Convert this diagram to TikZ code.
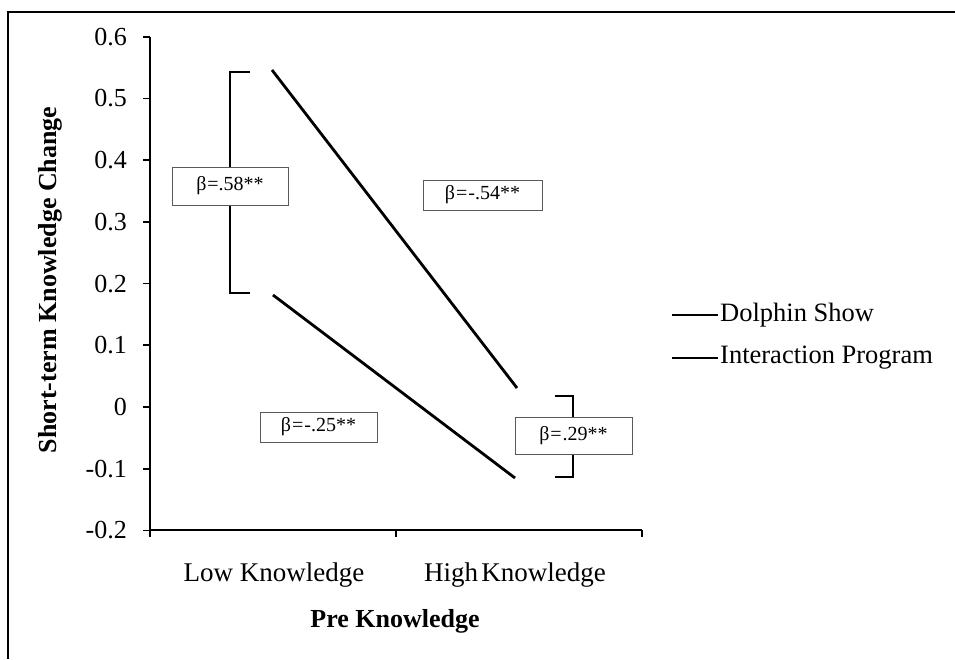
\documentclass[tikz,border=0pt]{standalone}
\usepackage{fontspec}
\setmainfont{Liberation Serif}
\begin{document}
\begin{tikzpicture}[x=1pt,y=1pt,
  ticklab/.style={font=\fontsize{26}{28}\selectfont, anchor=east, inner sep=0pt},
  catlab/.style={font=\fontsize{27}{29}\selectfont, anchor=base, inner sep=0pt},
  axtitle/.style={font=\bfseries\fontsize{26}{28}\selectfont, inner sep=0pt},
  leglab/.style={font=\fontsize{26.5}{28}\selectfont, anchor=west, inner sep=0pt},
  betabox/.style={draw=black!65, line width=0.9pt, fill=white, inner sep=0pt,
    font=\fontsize{20}{22}\selectfont},
  axis/.style={line width=1.6pt},
  dataline/.style={line width=2.8pt},
  bracket/.style={line width=1.4pt},
]
\useasboundingbox (0,0) rectangle (955,659);
% frame (top and left edges)
\coordinate (f1) at (955,647);
\coordinate (f2) at (8,647);
\coordinate (f3) at (8,0);
\draw[line width=2pt] (f1) -- (f2) -- (f3);

% axes
\coordinate (o) at (150,129);
\coordinate (ytop) at (150,622);
\coordinate (xend) at (642,129);
\draw[axis] (ytop) -- (o) -- (xend);
% y ticks and labels
\foreach \v/\t [count=\i] in {0.6/0.6,0.5/0.5,0.4/0.4,0.3/0.3,0.2/0.2,0.1/0.1,0/0,-0.1/-0.1,-0.2/-0.2}{
  \coordinate (yt\i) at (150,{252+617*\v});
  \coordinate (ys\i) at (143,{252+617*\v});
  \draw[axis] (ys\i) -- (yt\i);
  \node[ticklab] (yl\i) at (127,{252+617*\v}) {\t};
}
% x ticks
\foreach \x [count=\i] in {150,396,642}{
  \coordinate (xt\i) at (\x,129);
  \coordinate (xs\i) at (\x,122);
  \draw[axis] (xt\i) -- (xs\i);
}
\node[catlab] (low) at (274,78) {Low Knowledge};
\node[catlab] (high) at (515,78) {High\hspace{0.12em}Knowledge};
\node[axtitle, anchor=base] (xtitle) at (395,32) {Pre Knowledge};
\node[axtitle, rotate=90] (ytitle) at (50,379) {Short-term Knowledge Change};

% data lines
\coordinate (ds1) at (272,589);
\coordinate (ds2) at (517,271);
\coordinate (ip1) at (273,364);
\coordinate (ip2) at (515,181);
\draw[dataline] (ds1) -- (ds2);
\draw[dataline] (ip1) -- (ip2);

% left bracket
\coordinate (lb1) at (250,587);
\coordinate (lb2) at (230,587);
\coordinate (lb3) at (230,366);
\coordinate (lb4) at (250,366);
\draw[bracket] (lb1) -- (lb2) -- (lb3) -- (lb4);
\node[betabox, minimum width=116pt, minimum height=38pt] (b58) at (230,473) {β\kern1pt=.58**};

% right bracket
\coordinate (rb1) at (555,263);
\coordinate (rb2) at (573,263);
\coordinate (rb3) at (573,182);
\coordinate (rb4) at (555,182);
\draw[bracket] (rb1) -- (rb2) -- (rb3) -- (rb4);
\node[betabox, minimum width=117pt, minimum height=37pt] (b29) at (573.5,223.5) {β\kern1pt=\kern1pt.29**};

\node[betabox, minimum width=119pt, minimum height=30pt] (b54) at (482.5,464) {β\kern1pt=\kern1pt-.54**};
\node[betabox, minimum width=117pt, minimum height=30pt] (b25) at (318.5,232) {β\kern1pt=\kern1pt-.25**};

% legend
\coordinate (l1a) at (672,344);
\coordinate (l1b) at (718,344);
\coordinate (l2a) at (672,301);
\coordinate (l2b) at (718,301);
\draw[dataline] (l1a) -- (l1b);
\draw[dataline] (l2a) -- (l2b);
\node[leglab] (leg1) at (720,344) {Dolphin Show};
\node[leglab] (leg2) at (720,301) {Interaction Program};
\end{tikzpicture}
\end{document}
